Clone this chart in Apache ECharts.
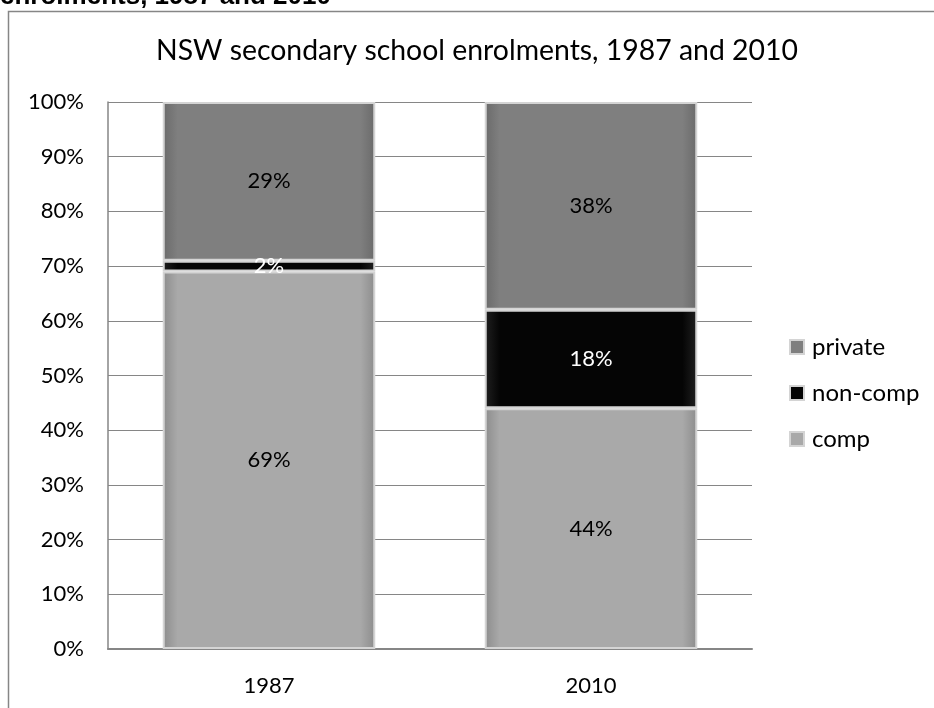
<!DOCTYPE html>
<html>
<head>
<meta charset="utf-8">
<script src="https://cdn.jsdelivr.net/npm/echarts@6/dist/echarts.min.js"></script>
<style>html,body{margin:0;padding:0;background:#fff}#c{width:934px;height:708px}</style>
</head>
<body>
<div id="c"></div>
<script>
var categories = ['1987', '2010'];
var compValues = [69, 44];
var nonCompValues = [2, 18];
var privateValues = [29, 38];
var yTicks = [0, 10, 20, 30, 40, 50, 60, 70, 80, 90, 100];

var FONT = 'Lato';
var chart = echarts.init(document.getElementById('c'));

function grad(edge, mid) {
  return new echarts.graphic.LinearGradient(0, 0, 1, 0, [
    {offset: 0, color: edge}, {offset: 0.07, color: mid}, {offset: 0.93, color: mid}, {offset: 1, color: edge}
  ]);
}

function mkSeries(name, data, fill, edge, labelColor) {
  return {
    name: name,
    type: 'bar',
    stack: 'total',
    barWidth: '66%',
    data: data,
    itemStyle: {color: grad(edge, fill), borderColor: '#d4d4d4', borderWidth: 2},
    label: {
      show: true, position: 'inside', formatter: '{c}%',
      color: labelColor, fontFamily: FONT, fontSize: 22
    }
  };
}

chart.setOption({
  animation: false,
  title: {
    text: 'NSW secondary school enrolments, 1987 and 2010',
    left: 156, top: 37, padding: 0,
    textStyle: {fontFamily: FONT, fontSize: 28.4, fontWeight: 'normal', color: '#000'}
  },
  graphic: [
    {type: 'rect', shape: {x: 8.5, y: 11.5, width: 940, height: 720}, style: {fill: 'none', stroke: '#868686', lineWidth: 1.5}},
    {type: 'text', x: 0, y: -3, style: {text: 'enrolments, 1987 and 2010', fontFamily: 'Liberation Sans', fontWeight: 'bold', fontSize: 26, fill: '#000', verticalAlign: 'middle'}}
  ],
  legend: {
    orient: 'vertical', left: 789, top: 335, itemGap: 22, padding: 0,
    itemWidth: 14, itemHeight: 14, icon: 'rect',
    data: ['private', 'non-comp', 'comp'],
    textStyle: {fontFamily: FONT, fontSize: 24, lineHeight: 24, color: '#000', padding: [0, 0, 0, 3]}
  },
  grid: {left: 108, right: 182, top: 102, bottom: 59},
  xAxis: {
    type: 'category', data: categories,
    axisLine: {lineStyle: {color: '#868686', width: 2}},
    axisTick: {show: false},
    axisLabel: {fontFamily: FONT, fontSize: 22, color: '#000', margin: 26}
  },
  yAxis: {
    type: 'value', min: 0, max: 100, interval: 10,
    axisLine: {show: true, lineStyle: {color: '#868686', width: 1.5}},
    axisTick: {show: false},
    splitLine: {lineStyle: {color: '#868686', width: 1}},
    axisLabel: {fontFamily: FONT, fontSize: 22, color: '#000', margin: 24, formatter: '{value}%'}
  },
  series: [
    mkSeries('comp', compValues, '#a9a9a9', '#8c8c8c', '#000'),
    mkSeries('non-comp', nonCompValues, '#050505', '#202020', '#fff'),
    mkSeries('private', privateValues, '#7f7f7f', '#6a6a6a', '#000')
  ]
});
</script>
</body>
</html>
